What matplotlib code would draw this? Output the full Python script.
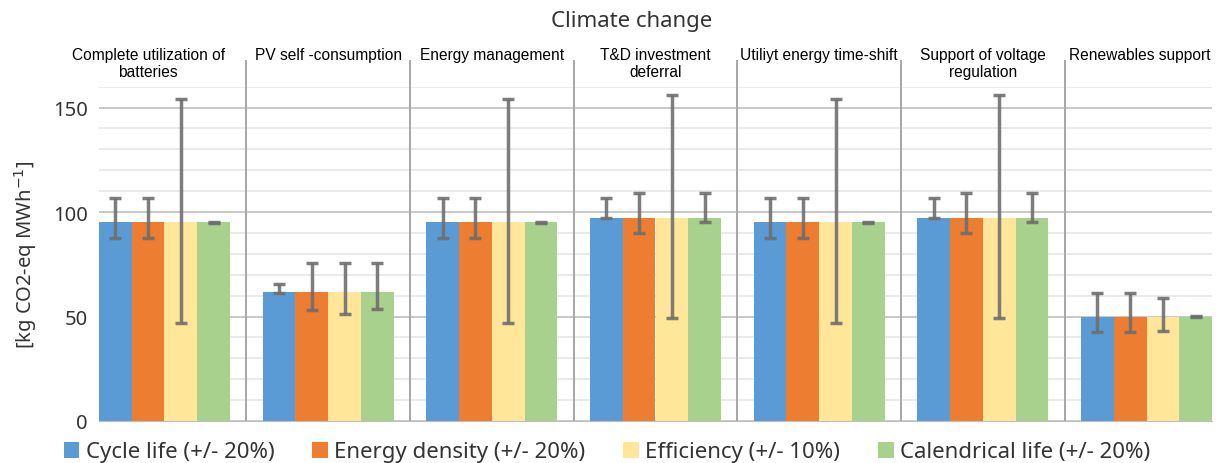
import numpy as np
import matplotlib
matplotlib.use('Agg')
import matplotlib.pyplot as plt
from matplotlib.lines import Line2D

plt.rcParams['font.family'] = ['Noto Sans', 'DejaVu Sans']

categories = ['Complete utilization of\nbatteries', 'PV self -consumption', 'Energy management',
              'T&D investment\ndeferral', 'Utiliyt energy time-shift', 'Support of voltage\nregulation',
              'Renewables support']
series = ['Cycle life (+/- 20%)', 'Energy density (+/- 20%)', 'Efficiency (+/- 10%)',
          'Calendrical life (+/- 20%)']
colors = ['#5B9BD5', '#ED7D31', '#FFE699', '#A9D18E']

values = [95.2, 61.8, 95.2, 97.0, 95.2, 97.0, 49.9]

# error bar ends (low, high)
cycle_low = [87.5, 61.5, 87.5, 97.0, 87.5, 97.0, 42.5]
cycle_high = [106.5, 65.4, 106.5, 106.5, 106.5, 106.5, 61.3]
energy_low = [87.5, 53.3, 87.5, 89.9, 87.5, 89.9, 42.5]
energy_high = [106.5, 75.6, 106.5, 108.9, 106.5, 108.9, 61.3]
eff_low = [46.7, 51.0, 46.7, 49.4, 46.7, 49.4, 43.0]
eff_high = [154.1, 75.6, 154.1, 156.0, 154.1, 156.0, 58.9]
cal_low = [95.0, 53.8, 95.0, 95.1, 95.0, 95.1, 49.7]
cal_high = [95.4, 75.6, 95.4, 108.9, 95.4, 108.9, 50.1]

lows = [cycle_low, energy_low, eff_low, cal_low]
highs = [cycle_high, energy_high, eff_high, cal_high]

fig = plt.figure(figsize=(12.16, 4.64), dpi=100)
ax = fig.add_axes([99/1216, 1-422/464, (1212-99)/1216, (422-87.7)/464])

x = np.arange(len(categories))
w = 0.2
v = np.array(values)
for k in range(4):
    xs = x + (k - 1.5) * w
    ax.bar(xs, v, width=w, color=colors[k], label=series[k], zorder=2)
    err = [v - np.array(lows[k]), np.array(highs[k]) - v]
    ax.errorbar(xs, v, yerr=err, fmt='none', ecolor='#6F6F6F', alpha=0.9,
                elinewidth=2.5, capsize=4.5, capthick=2.5, zorder=3)

ax.set_xlim(-0.4, len(categories) - 0.6)
ax.set_ylim(0, 160)
ax.set_yticks([0, 50, 100, 150])
ax.set_yticks(np.arange(0, 161, 10), minor=True)
ax.grid(axis='y', which='minor', color='#E6E6E6', lw=1.2, zorder=0)
ax.grid(axis='y', which='major', color='#C8C8C8', lw=1.4, zorder=0)
ax.set_xticks([])
ax.tick_params(axis='y', which='both', length=0, labelsize=14.5, pad=8, labelcolor='#333333')
for s in ['top', 'right', 'left']:
    ax.spines[s].set_visible(False)
ax.spines['bottom'].set_color('#BFBFBF')

# group separators reaching up into the label band
trans = ax.get_xaxis_transform()
for i in range(len(categories) - 1):
    ax.add_line(Line2D([i + 0.5, i + 0.5], [0, 1.077], transform=trans, color='#A6A6A6',
                       lw=1.4, clip_on=False))

label_x = [-0.1, 1, 2, 3, 4, 5, 5.96]
for i, c in enumerate(categories):
    ax.text(label_x[i], 1.118, c, transform=trans, ha='center', va='top', fontsize=11.2,
            family=['Liberation Sans', 'DejaVu Sans'], linespacing=1.12)

fig.text(632/1216, 1-22/464, 'Climate change', ha='center', va='center', fontsize=16, color='#333333')
ax.set_ylabel('[kg CO2-eq MWh$^{-1}$]', fontsize=14.5, color='#333333', labelpad=10)

fig.legend(loc='center', bbox_to_anchor=(607/1216, 1-453/464), ncol=4, frameon=False,
           fontsize=16, handlelength=0.7, handleheight=0.7, handletextpad=0.3,
           columnspacing=1.7, borderaxespad=0, labelcolor='#333333')

fig.savefig('out.png', dpi=100)
